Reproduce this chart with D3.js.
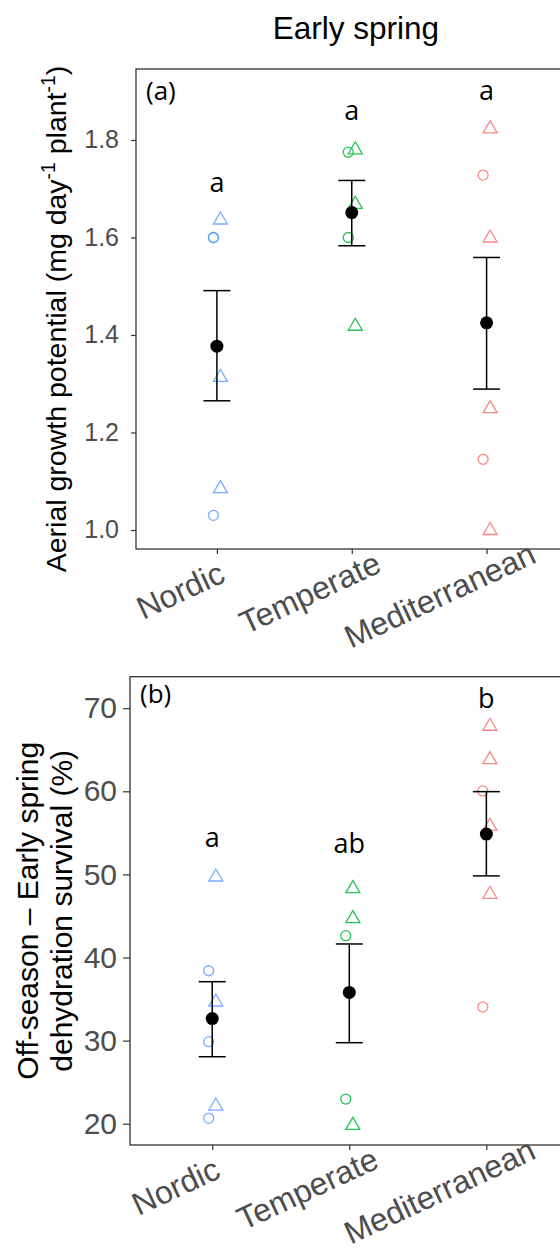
<!DOCTYPE html>
<html><head><meta charset="utf-8">
<script src="https://cdn.jsdelivr.net/npm/d3@7"></script>
<style>body{margin:0;background:#fff} svg{display:block}</style>
</head><body>
<svg id="chart" width="560" height="1254"></svg>
<script>
// ---------------- data ----------------
const categories = ["Nordic", "Temperate", "Mediterranean"];
const regionColors = ["#619CFF", "#00BA38", "#F8766D"];

// (a) Aerial growth potential
const growthTicks = [1.0, 1.2, 1.4, 1.6, 1.8];
const growthCircles = [["Nordic", 1.600], ["Nordic", 1.600], ["Nordic", 1.030],
  ["Temperate", 1.775], ["Temperate", 1.600],
  ["Mediterranean", 1.728], ["Mediterranean", 1.145]];
const growthTriangles = [["Nordic", 1.640], ["Nordic", 1.317], ["Nordic", 1.089],
  ["Temperate", 1.784], ["Temperate", 1.672], ["Temperate", 1.422],
  ["Mediterranean", 1.827], ["Mediterranean", 1.603], ["Mediterranean", 1.253], ["Mediterranean", 1.003]];
const growthMean = [1.377, 1.651, 1.425];
const growthLow = [1.265, 1.583, 1.289];
const growthHigh = [1.491, 1.717, 1.559];
const growthLetters = ["a", "a", "a"];
const growthLetterY = [1.694, 1.840, 1.883];

// (b) Off-season - Early spring dehydration survival (%)
const survivalTicks = [20, 30, 40, 50, 60, 70];
const survivalCircles = [["Nordic", 38.41], ["Nordic", 29.87], ["Nordic", 20.65],
  ["Temperate", 42.63], ["Temperate", 22.97],
  ["Mediterranean", 60.05], ["Mediterranean", 34.05]];
const survivalTriangles = [["Nordic", 49.93], ["Nordic", 34.89], ["Nordic", 22.37],
  ["Temperate", 48.53], ["Temperate", 44.92], ["Temperate", 20.05],
  ["Mediterranean", 68.07], ["Mediterranean", 64.05], ["Mediterranean", 56.04], ["Mediterranean", 47.85]];
const survivalMean = [32.65, 35.8, 54.85];
const survivalLow = [28.06, 29.75, 49.82];
const survivalHigh = [37.09, 41.63, 59.96];
const survivalLetters = ["a", "ab", "b"];
const survivalLetterY = [53.26, 52.54, 70.0];

// ---------------- drawing ----------------
const svg = d3.select("#chart");
const SANS = "'Liberation Sans', Arial, sans-serif";
const LETTER = "'Open Sans', 'Noto Sans', sans-serif";

svg.append("text")
  .attr("x", 356).attr("y", 39)
  .attr("text-anchor", "middle")
  .attr("font-family", SANS).attr("font-size", 31.5).attr("fill", "#000")
  .text("Early spring");

function drawPanel(cfg) {
  const g = svg.append("g");
  const x = d3.scalePoint().domain(categories).range([cfg.left, cfg.right]).padding(0.6);
  const y = d3.scaleLinear().domain(cfg.domain).range([cfg.bottom, cfg.top]);
  const dodge = x.step() * 0.026;
  const colorOf = c => regionColors[categories.indexOf(c)];

  // border
  g.append("rect")
    .attr("x", cfg.left).attr("y", cfg.top)
    .attr("width", cfg.right - cfg.left).attr("height", cfg.bottom - cfg.top)
    .attr("fill", "none").attr("stroke", "#333").attr("stroke-width", 1.3);

  // y axis
  const ya = g.append("g").attr("transform", `translate(${cfg.left},0)`)
    .call(d3.axisLeft(y).tickValues(cfg.ticks).tickFormat(cfg.format)
      .tickSize(cfg.tickLen).tickPadding(cfg.tickPad));
  ya.select(".domain").remove();
  ya.selectAll(".tick line").attr("stroke", "#333").attr("stroke-width", 1.2);
  ya.selectAll(".tick text").attr("font-family", SANS).attr("font-size", cfg.yFont).attr("fill", "#4D4D4D");

  // x axis
  const xa = g.append("g").attr("transform", `translate(0,${cfg.bottom})`)
    .call(d3.axisBottom(x).tickSize(5).tickPadding(0));
  xa.select(".domain").remove();
  xa.selectAll(".tick line").attr("stroke", "#333").attr("stroke-width", 1.2);
  xa.selectAll(".tick text")
    .attr("font-family", SANS).attr("font-size", 32).attr("fill", "#4D4D4D")
    .attr("text-anchor", "start").attr("dy", null).attr("y", 0)
    .each(function () {
      const len = this.getComputedTextLength();
      d3.select(this).attr("x", -0.6 * len)
        .attr("transform", "translate(-24,47.5) rotate(-25)");
    });

  // points
  g.append("g").selectAll("circle").data(cfg.circles).join("circle")
    .attr("cx", d => x(d[0]) - dodge).attr("cy", d => y(d[1])).attr("r", 5)
    .attr("fill", "none").attr("stroke", d => colorOf(d[0])).attr("stroke-width", 1.3).attr("stroke-opacity", 0.85);
  g.append("g").selectAll("path").data(cfg.triangles).join("path")
    .attr("transform", d => `translate(${x(d[0]) + dodge},${y(d[1])})`)
    .attr("d", "M0,-6L7,6L-7,6Z")
    .attr("fill", "none").attr("stroke", d => colorOf(d[0])).attr("stroke-width", 1.3).attr("stroke-opacity", 0.85);

  // error bars + means
  const eb = g.append("g").attr("stroke", "#000").attr("stroke-width", 1.5).attr("fill", "none");
  categories.forEach((c, i) => {
    const cx = x(c);
    eb.append("line").attr("x1", cx).attr("x2", cx).attr("y1", y(cfg.low[i])).attr("y2", y(cfg.high[i]));
    eb.append("line").attr("x1", cx - 13.5).attr("x2", cx + 13.5).attr("y1", y(cfg.low[i])).attr("y2", y(cfg.low[i]));
    eb.append("line").attr("x1", cx - 13.5).attr("x2", cx + 13.5).attr("y1", y(cfg.high[i])).attr("y2", y(cfg.high[i]));
  });
  g.append("g").selectAll("circle").data(cfg.mean).join("circle")
    .attr("cx", (d, i) => x(categories[i])).attr("cy", d => y(d)).attr("r", 6.5).attr("fill", "#000");

  // letters
  g.append("g").selectAll("text").data(cfg.letters).join("text")
    .attr("x", (d, i) => x(categories[i])).attr("y", (d, i) => y(cfg.letterY[i]))
    .attr("text-anchor", "middle").attr("font-family", LETTER).attr("font-size", 27).attr("fill", "#000")
    .text(d => d);

  // tag
  g.append("text").attr("x", cfg.left + 10).attr("y", cfg.top + cfg.tagDy)
    .attr("font-family", LETTER).attr("font-size", 26).attr("fill", "#000").text(cfg.tag);

  // y title
  const t = g.append("text")
    .attr("transform", `translate(${cfg.titleX},${(cfg.top + cfg.bottom) / 2 + cfg.titleShift}) rotate(-90)`)
    .attr("text-anchor", "middle").attr("font-family", SANS).attr("font-size", cfg.titleFont).attr("fill", "#000");
  cfg.title(t);
}

drawPanel({
  top: 69, bottom: 549, left: 136, right: 567.5,
  domain: [0.961, 1.9456], ticks: growthTicks, format: d3.format(".1f"),
  tickLen: 5, tickPad: 12, yFont: 25,
  circles: growthCircles, triangles: growthTriangles,
  mean: growthMean, low: growthLow, high: growthHigh,
  letters: growthLetters, letterY: growthLetterY,
  tag: "(a)", tagDy: 31,
  titleX: 66, titleShift: 10, titleFont: 28.5,
  title: t => {
    t.append("tspan").text("Aerial growth potential (mg day");
    t.append("tspan").attr("font-size", "0.68em").attr("dy", "-0.55em").text("-1");
    t.append("tspan").attr("dy", "0.374em").text(" plant");
    t.append("tspan").attr("font-size", "0.68em").attr("dy", "-0.55em").text("-1");
    t.append("tspan").attr("dy", "0.374em").text(")");
  }
});

drawPanel({
  top: 676.7, bottom: 1145, left: 130, right: 568.6,
  domain: [17.44, 73.79], ticks: survivalTicks, format: d3.format("d"),
  tickLen: 7, tickPad: 6, yFont: 30,
  circles: survivalCircles, triangles: survivalTriangles,
  mean: survivalMean, low: survivalLow, high: survivalHigh,
  letters: survivalLetters, letterY: survivalLetterY,
  tag: "(b)", tagDy: 26.5,
  titleX: 0, titleShift: 0, titleFont: 30,
  title: t => {
    t.append("tspan").attr("x", 0).attr("y", 38).text("Off-season \u2013 Early spring");
    t.append("tspan").attr("x", 0).attr("y", 72).text("dehydration survival (%)");
  }
});
</script>
</body></html>
